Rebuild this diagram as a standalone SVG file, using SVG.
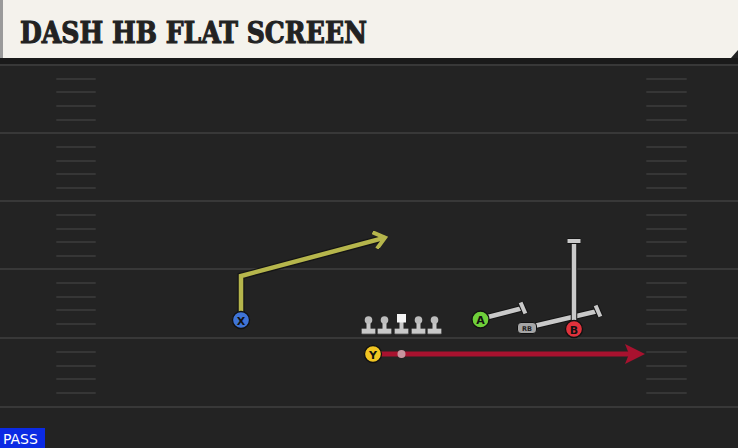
<svg xmlns="http://www.w3.org/2000/svg" width="738" height="448" viewBox="0 0 738 448">
<defs>
<style>
.yard{stroke:#383838;stroke-width:2}
.hash{stroke:#363636;stroke-width:2;stroke-linecap:round}
.blk{stroke:#c9c9c9;stroke-width:4.5;fill:none;stroke-linecap:butt}
.blko{stroke:#151515;stroke-width:6.5;fill:none;stroke-linecap:butt}
.tb{stroke:#c9c9c9;stroke-width:4}
.tbo{stroke:#151515;stroke-width:6}
.lbl{font-family:"DejaVu Sans",sans-serif;font-weight:bold;font-size:11px;text-anchor:middle;fill:#111}
.ol{fill:#c9c9c9;stroke:#555;stroke-width:0.8}
</style>
<marker id="arrY" markerWidth="4" markerHeight="4" refX="2.6" refY="2" orient="auto" viewBox="0 0 4 4">
<path d="M0.6,0.4 L2.6,2 L0.6,3.6" fill="none" stroke="#b6b64c" stroke-width="0.9" stroke-linecap="square"/>
</marker>
<marker id="arrR" markerWidth="4" markerHeight="4" refX="2" refY="2" orient="auto" viewBox="0 0 4 4">
<path d="M0,0 L4,2 L0,4 L0.8,2 Z" fill="#a8122f"/>
</marker>
</defs>
<rect x="0" y="0" width="738" height="448" fill="#232323"/>
<rect x="0" y="58" width="738" height="6" fill="#1a1a1a"/>
<g id="field">
<line class="yard" x1="0" y1="65" x2="738" y2="65"/>
<line class="yard" x1="0" y1="133" x2="738" y2="133"/>
<line class="yard" x1="0" y1="201" x2="738" y2="201"/>
<line class="yard" x1="0" y1="269" x2="738" y2="269"/>
<line class="yard" x1="0" y1="338" x2="738" y2="338"/>
<line class="yard" x1="0" y1="407" x2="738" y2="407"/>
<g id="hashL">
<line class="hash" x1="57" y1="79" x2="95" y2="79"/><line class="hash" x1="57" y1="92" x2="95" y2="92"/><line class="hash" x1="57" y1="106" x2="95" y2="106"/><line class="hash" x1="57" y1="120" x2="95" y2="120"/>
<line class="hash" x1="57" y1="147" x2="95" y2="147"/><line class="hash" x1="57" y1="161" x2="95" y2="161"/><line class="hash" x1="57" y1="174" x2="95" y2="174"/><line class="hash" x1="57" y1="188" x2="95" y2="188"/>
<line class="hash" x1="57" y1="215" x2="95" y2="215"/><line class="hash" x1="57" y1="229" x2="95" y2="229"/><line class="hash" x1="57" y1="242" x2="95" y2="242"/><line class="hash" x1="57" y1="256" x2="95" y2="256"/>
<line class="hash" x1="57" y1="283" x2="95" y2="283"/><line class="hash" x1="57" y1="297" x2="95" y2="297"/><line class="hash" x1="57" y1="310" x2="95" y2="310"/><line class="hash" x1="57" y1="324" x2="95" y2="324"/>
<line class="hash" x1="57" y1="352" x2="95" y2="352"/><line class="hash" x1="57" y1="366" x2="95" y2="366"/><line class="hash" x1="57" y1="379" x2="95" y2="379"/><line class="hash" x1="57" y1="393" x2="95" y2="393"/>
</g>
<g id="hashR">
<line class="hash" x1="647" y1="79" x2="686" y2="79"/><line class="hash" x1="647" y1="92" x2="686" y2="92"/><line class="hash" x1="647" y1="106" x2="686" y2="106"/><line class="hash" x1="647" y1="120" x2="686" y2="120"/>
<line class="hash" x1="647" y1="147" x2="686" y2="147"/><line class="hash" x1="647" y1="161" x2="686" y2="161"/><line class="hash" x1="647" y1="174" x2="686" y2="174"/><line class="hash" x1="647" y1="188" x2="686" y2="188"/>
<line class="hash" x1="647" y1="215" x2="686" y2="215"/><line class="hash" x1="647" y1="229" x2="686" y2="229"/><line class="hash" x1="647" y1="242" x2="686" y2="242"/><line class="hash" x1="647" y1="256" x2="686" y2="256"/>
<line class="hash" x1="647" y1="283" x2="686" y2="283"/><line class="hash" x1="647" y1="297" x2="686" y2="297"/><line class="hash" x1="647" y1="310" x2="686" y2="310"/><line class="hash" x1="647" y1="324" x2="686" y2="324"/>
<line class="hash" x1="647" y1="352" x2="686" y2="352"/><line class="hash" x1="647" y1="366" x2="686" y2="366"/><line class="hash" x1="647" y1="379" x2="686" y2="379"/><line class="hash" x1="647" y1="393" x2="686" y2="393"/>
</g>
</g>
<g id="header">
<path d="M0,0 H738 V50 L731,58 H0 Z" fill="#f4f2ec"/>
<rect x="0" y="0" width="3" height="58" fill="#9a9a9a"/>
<text x="20" y="43" font-family="'DejaVu Serif',serif" font-weight="bold" font-size="29" fill="#222" stroke="#222" stroke-width="1.1" textLength="347" lengthAdjust="spacingAndGlyphs">DASH HB FLAT SCREEN</text>
</g>
<g id="connectors">
<polyline points="241,312 241,276 384,238" fill="none" stroke="#151515" stroke-width="7"/>
<polyline points="241,312 241,276 385,237.7" fill="none" stroke="#b6b64c" stroke-width="4.5" marker-end="url(#arrY)"/>
<line x1="381" y1="354" x2="635" y2="354" stroke="#a8122f" stroke-width="5" marker-end="url(#arrR)"/>
<line x1="488" y1="317" x2="523" y2="308" class="blko"/>
<line x1="488" y1="317" x2="523" y2="308" class="blk"/>
<line x1="520.6" y1="302.5" x2="525.4" y2="313.5" class="tbo"/>
<line x1="520.6" y1="302.5" x2="525.4" y2="313.5" class="tb"/>
<line x1="534" y1="326" x2="598" y2="311" class="blko"/>
<line x1="534" y1="326" x2="598" y2="311" class="blk"/>
<line x1="574" y1="320" x2="574" y2="241" class="blko"/>
<line x1="574" y1="320" x2="574" y2="241" class="blk"/>
<line x1="595.6" y1="305.5" x2="600.4" y2="316.5" class="tbo"/>
<line x1="595.6" y1="305.5" x2="600.4" y2="316.5" class="tb"/>
<line x1="567.5" y1="241" x2="580.5" y2="241" class="tbo"/>
<line x1="567.5" y1="241" x2="580.5" y2="241" class="tb"/>
</g>
<g id="OL">
<g id="LT"><rect x="361.5" y="328.5" width="14" height="5.5" rx="1" class="ol"/><rect x="366.5" y="320" width="4" height="10" fill="#c9c9c9"/><circle cx="368.5" cy="320" r="3.8" fill="#bdbdbd"/></g>
<g id="LG"><rect x="377.5" y="328.5" width="14" height="5.5" rx="1" class="ol"/><rect x="382.5" y="320" width="4" height="10" fill="#c9c9c9"/><circle cx="384.5" cy="320" r="3.8" fill="#bdbdbd"/></g>
<g id="C"><rect x="394.5" y="328.5" width="14" height="5.5" rx="1" class="ol"/><rect x="399.5" y="321" width="4" height="9" fill="#c9c9c9"/><rect x="397" y="314" width="9" height="8.5" fill="#f4f4f4"/></g>
<g id="RG"><rect x="411.5" y="328.5" width="14" height="5.5" rx="1" class="ol"/><rect x="416.5" y="320" width="4" height="10" fill="#c9c9c9"/><circle cx="418.5" cy="320" r="3.8" fill="#bdbdbd"/></g>
<g id="RT"><rect x="427.5" y="328.5" width="14" height="5.5" rx="1" class="ol"/><rect x="432.5" y="320" width="4" height="10" fill="#c9c9c9"/><circle cx="434.5" cy="320" r="3.8" fill="#bdbdbd"/></g>
</g>
<g id="X"><circle cx="241" cy="320" r="8.5" fill="#3f74d6" stroke="#111" stroke-width="1.3"/><text class="lbl" x="241" y="324.5" fill="#10204a">X</text></g>
<g id="Y"><circle cx="373" cy="354" r="8.5" fill="#f1c522" stroke="#111" stroke-width="1.3"/><text class="lbl" x="373" y="358.5">Y</text></g>
<g id="snap"><circle cx="401.5" cy="354" r="4" fill="#c8949f"/></g>
<g id="A"><circle cx="480.5" cy="319.5" r="8.5" fill="#6fcf3a" stroke="#111" stroke-width="1.3"/><text class="lbl" x="480.5" y="324">A</text></g>
<g id="RB"><rect x="517.5" y="322.5" width="19" height="11" rx="3.5" fill="#a5a5a5" stroke="#111" stroke-width="1"/><text x="527" y="330.8" font-family="'DejaVu Sans',sans-serif" font-weight="bold" font-size="6.5" text-anchor="middle" fill="#222">RB</text></g>
<g id="B"><circle cx="574" cy="329" r="8.5" fill="#e0323c" stroke="#111" stroke-width="1.3"/><text class="lbl" x="574" y="333.5">B</text></g>
<g id="pass"><rect x="0" y="428" width="45" height="20" fill="#0b2ae4"/><text x="3" y="444" font-family="'DejaVu Sans',sans-serif" font-size="14" fill="#fff">PASS</text></g>
</svg>
